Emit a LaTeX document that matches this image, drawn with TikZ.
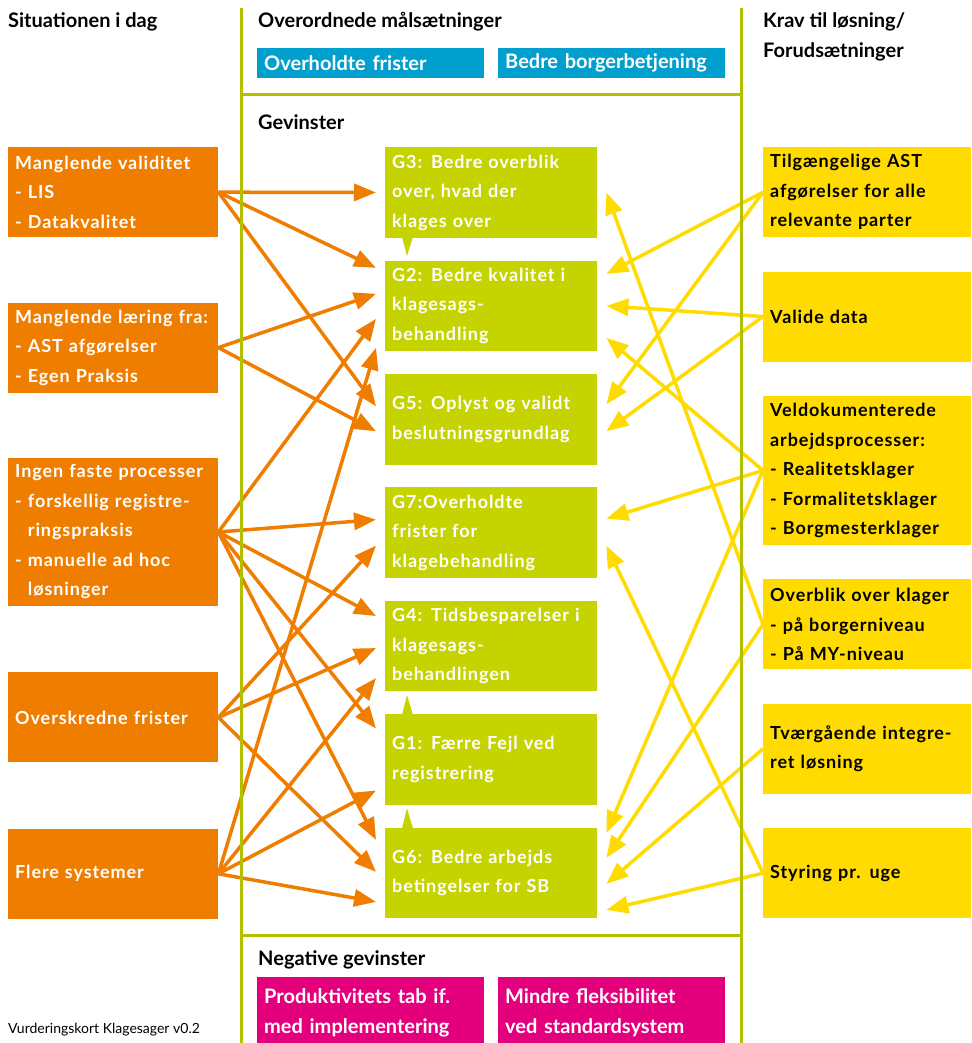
\documentclass[tikz,border=0pt]{standalone}
\usepackage{fontspec}
\setmainfont{Lato}
\newfontfamily\trackedfont[LetterSpace=5.0]{Lato}
\usetikzlibrary{arrows.meta, positioning}

\definecolor{orangebox}{HTML}{EF7D00}
\definecolor{greenbox}{HTML}{C5D300}
\definecolor{yellowbox}{HTML}{FFDB00}
\definecolor{bluebox}{HTML}{009FCE}
\definecolor{pinkbox}{HTML}{E4007D}
\definecolor{frameline}{HTML}{B3C000}

\tikzset{
  headtext/.style={font=\bfseries\fontsize{20}{30}\selectfont, inner sep=0pt, align=left},
  boxtext/.style={font=\trackedfont\bfseries\fontsize{18}{29.5}\selectfont, align=left,
    inner xsep=7pt, inner ysep=0pt},
  sitbox/.style={boxtext, fill=orangebox, text=white, text width=196pt, minimum height=90pt},
  gainbox/.style={boxtext, fill=greenbox, text=white, text width=198pt, minimum height=90.5pt},
  reqbox/.style={boxtext, fill=yellowbox, text=black, text width=194pt, minimum height=90pt},
  goalbox/.style={headtext, anchor=north west, fill=bluebox, text=white, inner xsep=7pt,
    text width=213pt, minimum height=30pt},
  negbox/.style={headtext, anchor=north west, fill=pinkbox, text=white, inner xsep=7pt,
    text width=213pt, minimum height=72pt},
  leftarrow/.style={draw=orangebox, line width=3.5pt, -{Triangle[length=22pt,width=17pt]}},
  rightarrow/.style={draw=yellowbox, line width=3.5pt, -{Triangle[length=22pt,width=17pt]}},
  frame/.style={draw=frameline, line width=3pt}
}

\begin{document}
\begin{tikzpicture}[x=1pt, y=-1pt]
\useasboundingbox (0,0) rectangle (971,1043);

% column headers
\node[headtext, anchor=west] (sithead) at (8,22) {Situationen i dag};
\node[headtext, anchor=west] (goalhead) at (258,22) {Overordnede målsætninger};
\node[headtext, anchor=west] (reqhead) at (763,37) {Krav til løsning/\\Forudsætninger};
\node[headtext, anchor=west] (gainhead) at (258,122) {Gevinster};
\node[headtext, anchor=west] (neghead) at (258,960) {Negative gevinster};

% goals
\node[goalbox] (goal1) at (257,48) {Overholdte frister};
\node[goalbox] (goal2) at (498,48) {Bedre borgerbetjening};

% situation today
\node[sitbox, anchor=north west] (b1) at (8,147) {Manglende validitet\\- LIS\\- Datakvalitet};
\node[sitbox, below=65pt of b1] (b2) {Manglende læring fra:\\- AST afgørelser\\- Egen Praksis};
\node[sitbox, below=65pt of b2, minimum height=148pt] (b3) {Ingen faste processer\\- forskellig registre-\\\phantom{- }ringspraksis\\- manuelle ad hoc\\\phantom{- }løsninger};
\node[sitbox, below=66pt of b3] (b4) {Overskredne frister};
\node[sitbox, below=66pt of b4] (b5) {Flere systemer};

% gains
\node[gainbox, anchor=north west] (g3) at (385,147) {G3: Bedre overblik\\over, hvad der\\klages over};
\node[gainbox, below=22.5pt of g3] (g2) {G2: Bedre kvalitet i\\klagesags-\\behandling};
\node[gainbox, below=22.5pt of g2] (g5) {G5: Oplyst og validt\\beslutningsgrundlag};
\node[gainbox, below=22.5pt of g5] (g7) {G7:Overholdte\\frister for\\klagebehandling};
\node[gainbox, below=22.5pt of g7] (g4) {G4: Tidsbesparelser i\\klagesags-\\behandlingen};
\node[gainbox, below=22.5pt of g4] (g1) {G1: Færre Fejl ved\\registrering};
\node[gainbox, below=22.5pt of g1] (g6) {G6: Bedre arbejds\\betingelser for SB};

% pointers between gains
\fill[greenbox] ([xshift=17pt,yshift=1pt]g3.south west) -- ([xshift=28pt,yshift=1pt]g3.south west)
  -- ([xshift=22pt,yshift=-18pt]g3.south west) -- cycle;
\foreach \g in {g1,g6}
  \fill[greenbox] ([xshift=17pt,yshift=-1pt]\g.north west) -- ([xshift=28pt,yshift=-1pt]\g.north west)
    -- ([xshift=22pt,yshift=19pt]\g.north west) -- cycle;

% requirements
\node[reqbox, anchor=north west] (y1) at (763,147) {Tilgængelige AST\\afgørelser for alle\\relevante parter};
\node[reqbox, below=34pt of y1] (y2) {Valide data};
\node[reqbox, below=34pt of y2, minimum height=149pt] (y3) {Veldokumenterede\\arbejdsprocesser:\\- Realitetsklager\\- Formalitetsklager\\- Borgmesterklager};
\node[reqbox, below=34pt of y3] (y4) {Overblik over klager\\- på borgerniveau\\- På MY-niveau};
\node[reqbox, below=34pt of y4] (y5) {Tværgående integre-\\ret løsning};
\node[reqbox, below=34pt of y5] (y6) {Styring pr. uge};

% negative gains
\node[negbox] (neg1) at (257,977) {Produktivitets tab if.\\med implementering};
\node[negbox] (neg2) at (498,977) {Mindre fleksibilitet\\ved standardsystem};

% situation -> gains
\foreach \src/\dst/\dy in {b1/g3/0, b1/g2/38, b1/g5/13, b2/g2/12, b2/g5/-12,
    b3/g2/-13, b3/g7/13, b3/g4/30, b3/g1/31, b3/g6/33,
    b4/g7/-13, b4/g4/-2, b4/g6/1,
    b5/g2/-42, b5/g4/-32, b5/g1/-31, b5/g6/-29}
  \draw[leftarrow] (\src.east) -- ([xshift=-9pt,yshift=\dy pt]\dst.west);

% requirements -> gains
\foreach \src/\dst/\dy in {y1/g2/32, y1/g5/15, y2/g2/0, y2/g5/-12,
    y3/g2/-32, y3/g7/14, y3/g6/40, y4/g3/0, y4/g6/15,
    y5/g6/-11, y6/g7/-13, y6/g6/-37}
  \draw[rightarrow] (\src.west) -- ([xshift=9pt,yshift=\dy pt]\dst.east);

% frame
\draw[frame] (241,8) -- (241,1043);
\draw[frame] (741,8) -- (741,1043);
\draw[frame] (241,95) -- (741,95);
\draw[frame] (241,935) -- (741,935);

\node[anchor=west, inner sep=0pt, font=\fontsize{14}{16}\selectfont] (version) at (8,1030) {Vurderingskort Klagesager v0.2};
\end{tikzpicture}
\end{document}
